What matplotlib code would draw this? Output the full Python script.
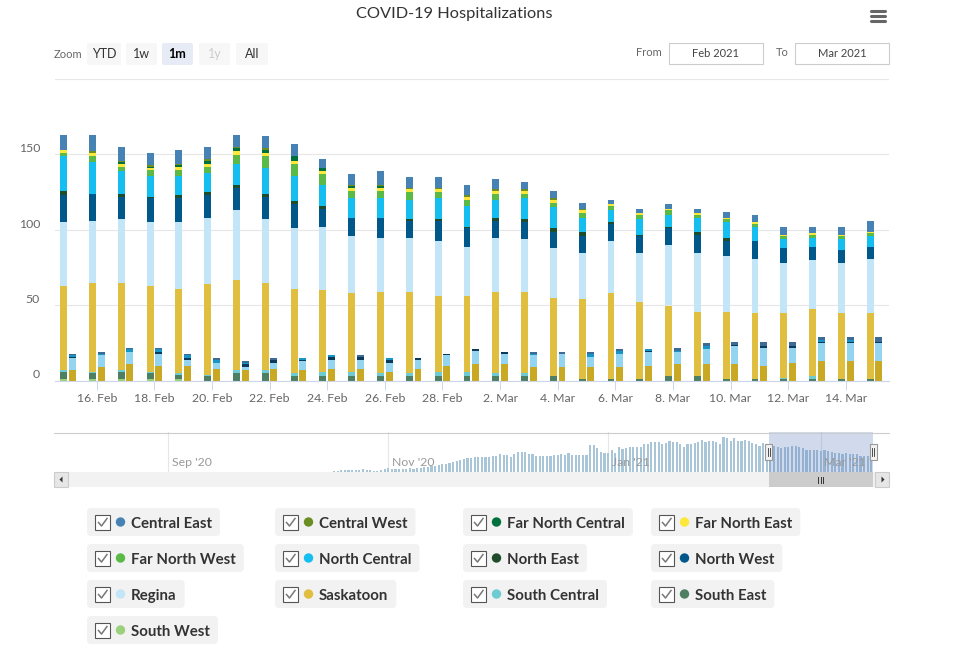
import numpy as np
import pandas as pd
import matplotlib
matplotlib.use("Agg")
import matplotlib.pyplot as plt
import matplotlib.dates as mdates
from matplotlib.patches import Rectangle, FancyBboxPatch, Circle, Polygon
from matplotlib.transforms import blended_transform_factory

plt.rcParams['font.family'] = ['Lato', 'DejaVu Sans']

# ---- data -------------------------------------------------------------
days = pd.date_range('2021-02-15', '2021-03-15')

regions = ['Central East', 'Central West', 'Far North Central', 'Far North East',
           'Far North West', 'North Central', 'North East', 'North West',
           'Regina', 'Saskatoon', 'South Central', 'South East', 'South West']

colors = ['#4682b4', '#6b8e23', '#00703c', '#fde73a', '#5ab947', '#14bef0', '#1f4d2c',
          '#00578a', '#c2e6f7', '#dfbe40', '#6dcbd3', '#4e7f62', '#9bd17a']
icu_colors = ['#3d6b96', '#58731c', '#005a30', '#d9c52f', '#49963a', '#1596c6', '#183e24',
              '#0b3a5c', '#93d5f0', '#c9a823', '#52a9b0', '#3e6650', '#7fb063']

# in hospital (left bar of each day), Feb 15 - Mar 15
central_east = [10, 11, 9, 8, 9, 8, 8, 8, 8, 6, 7, 9, 7, 7, 7, 7, 5, 5, 4, 3, 3, 3, 3, 4, 5, 5, 4, 5, 7]
central_west = [0, 1, 1, 1, 1, 1, 1, 1, 0, 0, 1, 1, 1, 1, 1, 1, 1, 1, 1, 0, 0, 0, 0, 0, 0, 0, 0, 0, 0]
far_north_central = [0, 0, 1, 1, 1, 2, 2, 2, 3, 2, 1, 1, 0, 0, 0, 0, 0, 0, 0, 0, 0, 0, 0, 0, 0, 0, 0, 0, 0]
far_north_east = [2, 2, 2, 1, 2, 2, 2, 2, 2, 2, 2, 2, 2, 2, 2, 2, 2, 2, 2, 1, 1, 1, 1, 1, 1, 1, 1, 1, 1]
far_north_west = [2, 4, 3, 4, 4, 4, 6, 8, 8, 7, 5, 5, 5, 4, 4, 4, 3, 3, 3, 3, 3, 3, 2, 2, 2, 2, 2, 2, 2]
north_central = [23, 21, 15, 14, 13, 13, 14, 17, 17, 14, 13, 13, 13, 14, 14, 12, 14, 14, 9, 8, 10, 8, 9, 10, 9, 6, 6, 7, 7]
north_east = [3, 0, 2, 1, 2, 2, 2, 2, 2, 2, 0, 0, 1, 1, 1, 2, 2, 2, 3, 1, 1, 1, 2, 2, 0, 0, 0, 0, 0]
north_west = [18, 18, 15, 16, 16, 15, 15, 15, 16, 12, 12, 13, 11, 13, 12, 11, 11, 11, 11, 11, 11, 11, 12, 10, 12, 10, 9, 9, 8]
regina = [42, 41, 42, 42, 44, 44, 46, 42, 40, 42, 38, 36, 36, 37, 33, 36, 35, 33, 31, 35, 33, 40, 39, 37, 36, 33, 32, 33, 36]
saskatoon = [56, 59, 58, 57, 56, 60, 60, 58, 56, 54, 52, 54, 54, 50, 50, 54, 54, 52, 53, 57, 51, 47, 43, 45, 44, 43, 45, 44, 44]
south_central = [1, 1, 1, 1, 1, 1, 2, 2, 2, 3, 3, 2, 2, 3, 3, 2, 2, 0, 0, 0, 0, 0, 0, 0, 0, 1, 2, 0, 0]
south_east = [5, 4, 5, 4, 3, 3, 5, 5, 3, 3, 3, 3, 3, 3, 3, 3, 3, 3, 1, 1, 1, 3, 3, 1, 1, 1, 1, 1, 1]
south_west = [1, 1, 1, 1, 1, 0, 0, 0, 0, 0, 0, 0, 0, 0, 0, 0, 0, 0, 0, 0, 0, 0, 0, 0, 0, 0, 0, 0, 0]

# in ICU (right bar of each day)
central_east_icu = [1, 1, 1, 1, 1, 1, 1, 1, 0, 0, 1, 0, 0, 0, 0, 0, 1, 1, 1, 1, 0, 2, 2, 2, 3, 3, 2, 2, 3]
north_central_icu = [1, 1, 2, 2, 2, 2, 1, 0, 1, 1, 0, 1, 0, 0, 0, 0, 1, 0, 2, 2, 1, 1, 2, 0, 0, 0, 1, 1, 0]
north_west_icu = [1, 0, 0, 1, 1, 0, 2, 2, 1, 2, 2, 2, 1, 1, 1, 1, 0, 0, 0, 0, 1, 0, 0, 1, 1, 1, 1, 1, 1]
regina_icu = [8, 8, 8, 8, 4, 4, 2, 4, 6, 6, 6, 6, 6, 7, 9, 7, 8, 9, 7, 9, 9, 8, 10, 12, 12, 10, 12, 12, 12]
saskatoon_icu = [7, 9, 11, 10, 10, 8, 7, 8, 7, 8, 8, 6, 8, 10, 11, 11, 9, 9, 9, 9, 10, 11, 11, 11, 10, 12, 13, 13, 13]

# navigator: total in hospital before the selected month
nav_days = pd.date_range('2020-10-17', '2021-02-14')
nav_oct = [4, 4, 10, 10, 10, 10, 10, 10, 17, 10, 10, 6, 6, 15, 19]
nav_nov = [23, 19, 19, 19, 19, 19, 25, 19, 23, 27, 33, 31, 36, 38, 44, 48, 52, 54, 61, 67,
           73, 82, 86, 88, 90, 92, 96, 92, 94, 102]
nav_dec = [98, 109, 107, 105, 92, 111, 123, 123, 123, 111, 111, 98, 98, 98, 98, 98, 105, 105,
           111, 105, 117, 105, 105, 105, 105, 105, 167, 167, 148, 123, 117]
nav_jan = [117, 136, 117, 155, 144, 150, 157, 153, 155, 155, 171, 173, 184, 186, 188, 176,
           180, 192, 188, 186, 173, 157, 173, 176, 182, 184, 199, 188, 194, 190, 188]
nav_feb = [171, 215, 209, 192, 209, 194, 194, 201, 192, 178, 173, 159, 178, 165]
nav_sparse_days = ['2020-08-07', '2020-09-19', '2020-09-20', '2020-09-21']
nav_sparse = [3, 3, 3, 3]

nav_months = ['2020-09-01', '2020-11-01', '2021-01-01', '2021-03-01']
nav_month_labels = ["Sep '20", "Nov '20", "Jan '21", "Mar '21"]

hosp = dict(zip(regions, [central_east, central_west, far_north_central, far_north_east,
                          far_north_west, north_central, north_east, north_west, regina,
                          saskatoon, south_central, south_east, south_west]))
icu = {'Central East': central_east_icu, 'North Central': north_central_icu,
       'North West': north_west_icu, 'Regina': regina_icu, 'Saskatoon': saskatoon_icu}
col = dict(zip(regions, colors))
icol = dict(zip(regions, icu_colors))

# ---- figure -----------------------------------------------------------
W, H = 960, 663
fig = plt.figure(figsize=(W / 100, H / 100), dpi=100)

# overlay in pixel coordinates for the stock-chart furniture
ui = fig.add_axes([0, 0, 1, 1], zorder=5)
ui.set_xlim(0, W)
ui.set_ylim(H, 0)
ui.axis('off')
ui.patch.set_alpha(0)

ui.text(454, 14, 'COVID-19 Hospitalizations', fontsize=11.8, color='#333333',
        ha='center', va='center')
for yy in [11, 16, 21]:
    ui.plot([871, 885], [yy, yy], color='#666666', lw=2.2, solid_capstyle='round')

# range selector
ui.text(54, 54, 'Zoom', fontsize=8, color='#666666', va='center')
buttons = [('YTD', 87, 121), ('1w', 126, 157), ('1m', 162, 193), ('1y', 199, 230), ('All', 236, 268)]
for lbl, x0, x1 in buttons:
    fc = '#e6ebf5' if lbl == '1m' else '#f7f7f7'
    tc = '#cccccc' if lbl == '1y' else ('#000000' if lbl == '1m' else '#333333')
    ui.add_patch(FancyBboxPatch((x0, 43), x1 - x0, 22, boxstyle='round,pad=0,rounding_size=2',
                                fc=fc, ec='none'))
    ui.text((x0 + x1) / 2, 54.5, lbl, fontsize=9, color=tc, ha='center', va='center',
            fontweight='bold' if lbl == '1m' else 'normal')

ui.text(662, 53, 'From', fontsize=8, color='#666666', ha='right', va='center')
ui.text(776, 53, 'To', fontsize=8, color='#666666', ha='left', va='center')
for x0, lbl in [(669, 'Feb 2021'), (795, 'Mar 2021')]:
    ui.add_patch(Rectangle((x0, 43), 94, 21, fc='white', ec='#cccccc', lw=0.8))
    ui.text(x0 + 47, 53.5, lbl, fontsize=8, color='#444444', ha='center', va='center')

# main chart
x = mdates.date2num(days)
ax = fig.add_axes([55 / W, 1 - 381 / H, 834 / W, 302 / H])
bh = np.zeros(len(days))
bi = np.zeros(len(days))
for name in regions[::-1]:
    v = np.array(hosp[name])
    ax.bar(x - 0.15, v, 0.24, bottom=bh, color=col[name], lw=0, zorder=2)
    bh += v
    vi = np.array(icu.get(name, [0] * len(days)))
    ax.bar(x + 0.15, vi, 0.24, bottom=bi, color=icol[name], lw=0, zorder=2)
    bi += vi

ax.set_xlim(x[0] - 0.45, x[-1] + 0.5)
ax.set_ylim(0, 200)
ax.set_yticks([0, 50, 100, 150, 200])
ax.yaxis.grid(True, color='#e6e6e6', lw=0.8)
ax.set_axisbelow(True)
ax.tick_params(axis='y', length=0, labelleft=False)
for s in ['top', 'right', 'left']:
    ax.spines[s].set_visible(False)
ax.spines['bottom'].set_color('#ccd6eb')
ax.spines['bottom'].set_linewidth(0.8)
ax.set_xticks(x[1::2])
ax.xaxis.set_major_formatter(mdates.DateFormatter('%-d. %b'))
ax.tick_params(axis='x', length=6.5, width=0.7, color='#ccd6eb', labelsize=8.8,
               labelcolor='#666666', pad=2.2)
for v in [0, 50, 100, 150]:
    ax.annotate(str(v), xy=(0, v), xycoords=('axes fraction', 'data'), xytext=(-15, 6),
                textcoords='offset pixels', ha='right', va='center', fontsize=8.8,
                color='#666666')

# navigator
nav = fig.add_axes([54 / W, 1 - 472 / H, 835 / W, 40 / H])
nav_vals = nav_oct + nav_nov + nav_dec + nav_jan + nav_feb
nav.bar(mdates.date2num(nav_days), nav_vals, 0.6, color='#a9c5d8', lw=0)
nav.bar(mdates.date2num(pd.to_datetime(nav_sparse_days)), nav_sparse, 0.6, color='#a9c5d8', lw=0)
nav.bar(x, bh, 0.6, color='#a9c5d8', lw=0)
sep1 = mdates.date2num(pd.Timestamp('2020-09-01'))
nav.set_xlim(sep1 - 31.7, sep1 + 199.9)
nav.set_ylim(0, 248)
nav.axis('off')
tr = blended_transform_factory(nav.transData, nav.transAxes)
for d, lbl in zip(nav_months, nav_month_labels):
    dn = mdates.date2num(pd.Timestamp(d))
    nav.plot([dn, dn], [0, 1], transform=tr, color='#e6e6e6', lw=0.8, zorder=0)
    nav.text(dn + 1.0, 0.225, lbl, transform=tr, fontsize=8.8, color='#999999', va='center',
             zorder=4)
sel0, sel1 = x[0] - 0.45, x[-1] + 0.5
nav.axvspan(sel0, sel1, color=(102 / 255, 133 / 255, 194 / 255, 0.3), lw=0, zorder=3)

ui.plot([54, 889], [432.5, 432.5], color='#cccccc', lw=0.8)

# scrollbar
def nav_px(d):
    lo, hi = nav.get_xlim()
    return 54 + (d - lo) / (hi - lo) * 835

p0, p1 = nav_px(sel0), nav_px(sel1)
ui.add_patch(Rectangle((54, 472), 835, 15, fc='#f2f2f2', ec='none'))
ui.add_patch(Rectangle((p0, 472), p1 - p0, 15, fc='#cccccc', ec='none'))
for bx in [54, 875]:
    ui.add_patch(Rectangle((bx, 472), 14, 15, fc='#e6e6e6', ec='#cccccc', lw=0.8))
ui.add_patch(Polygon([(59.5, 479.5), (62.5, 476.5), (62.5, 482.5)], fc='#333333', ec='none'))
ui.add_patch(Polygon([(884.5, 479.5), (881.5, 476.5), (881.5, 482.5)], fc='#333333', ec='none'))
pm = (p0 + p1) / 2
for dx in [-2.5, 0, 2.5]:
    ui.plot([pm + dx, pm + dx], [476.5, 482.5], color='#333333', lw=0.7)

# navigator handles
for cx in [p0, p1]:
    ui.add_patch(Rectangle((cx - 3.5, 444), 7, 16, fc='#f2f2f2', ec='#999999', lw=0.8))
    for dx in [-1, 1]:
        ui.plot([cx + dx, cx + dx], [448, 456], color='#333333', lw=0.6)

# legend
renderer = fig.canvas.get_renderer()
for i, name in enumerate(regions):
    bx = 87 + (i % 4) * 188
    by = 508 + (i // 4) * 36
    t = ui.text(bx + 44, by + 20.3, name, fontsize=10.8, fontweight='bold', color='#333333',
                va='baseline', zorder=3)
    tw = t.get_window_extent(renderer).width
    ui.add_patch(FancyBboxPatch((bx, by), tw + 52, 28, boxstyle='round,pad=0,rounding_size=4',
                                fc='#f2f2f2', ec='none', zorder=1))
    ui.add_patch(Rectangle((bx + 8, by + 7), 15, 15, fc='white', ec='#555555', lw=0.8, zorder=2))
    ui.plot([bx + 11.5, bx + 14.5, bx + 20], [by + 14.5, by + 18, by + 10.5], color='#777777',
            lw=1.1, zorder=3)
    ui.add_patch(Circle((bx + 33.5, by + 14), 4.7, fc=col[name], ec='none', zorder=2))

fig.savefig('out.png', dpi=100)
